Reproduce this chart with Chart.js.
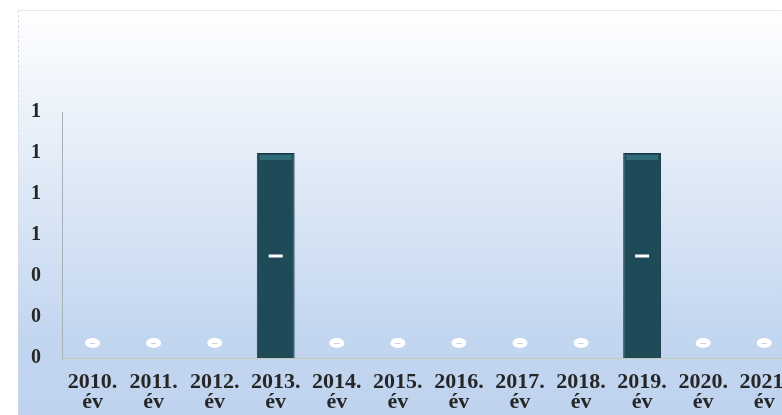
<!DOCTYPE html>
<html>
<head>
<meta charset="utf-8">
<script src="https://cdn.jsdelivr.net/npm/chart.js@4/dist/chart.umd.min.js"></script>
<style>
  html, body { margin: 0; padding: 0; overflow: hidden; background: #fff; }
  #bg {
    position: absolute; left: 18px; top: 10px; width: 800px; height: 405px;
    background: linear-gradient(to bottom, #ffffff 0%, #f3f7fc 15%, #dde8f6 45%, #c3d6f0 80%, #bfd3ef 100%);
    border-top: 1px solid #e6e6e6;
    border-left: 1px dashed #d8d8e8;
  }
  #chart_bars { position: absolute; left: 0; top: 0; }
</style>
</head>
<body>
<div id="bg"></div>
<canvas id="chart_bars" width="804" height="415"></canvas>
<script>
// categories and values
const years = ['2010.', '2011.', '2012.', '2013.', '2014.', '2015.', '2016.', '2017.', '2018.', '2019.', '2020.', '2021.'];
const counts = [0, 0, 0, 1, 0, 0, 0, 0, 0, 1, 0, 0];
const y_ticks = [0, 0.2, 0.4, 0.6, 0.8, 1, 1.2];

const labels = years.map(y => [y, 'év']);

// white label boxes like the ones on the original
const valueBoxes = {
  id: 'valueBoxes',
  afterDatasetsDraw(chart){
    const ctx = chart.ctx;
    const meta = chart.getDatasetMeta(0);
    ctx.save();
    meta.data.forEach(function(bar, i){
      const v = counts[i];
      if (v > 0){
        // lighter band at the top of the bar
        ctx.fillStyle = '#2f6b79';
        ctx.fillRect(bar.x - bar.width / 2 + 3, bar.y + 2, bar.width - 6, 5);
        const cy = (bar.y + bar.base) / 2 + 1;
        ctx.fillStyle = '#ffffff';
        ctx.fillRect(bar.x - 7, cy - 2, 14, 3);
      }else{
        const cy = bar.base - 15;
        ctx.fillStyle = '#ffffff';
        ctx.beginPath();
        ctx.ellipse(bar.x, cy, 7.5, 5, 0, 0, Math.PI * 2);
        ctx.fill();
        ctx.fillStyle = '#b8c4d4';
        ctx.font = 'bold 10px "Liberation Serif"';
        ctx.textAlign = 'center';
        ctx.textBaseline = 'middle';
        ctx.fillText('–', bar.x, cy);
      }
    });
    ctx.restore();
  }
};

const data = {
  labels: labels,
  datasets: [{
    data: counts,
    backgroundColor: '#1f4a57',
    borderColor: '#163a44',
    borderWidth: 1,
    categoryPercentage: 1,
    barPercentage: 0.62
  }]
};

const options = {
  responsive: false,
  animation: false,
  layout: { padding: { top: 112, left: 13, right: 0, bottom: 0 } },
  plugins: { legend: { display: false }, tooltip: { enabled: false } },
  scales: {
    x: {
      afterFit: function(scale){ scale.height = 57; },
      grid: { display: false, drawTicks: false },
      border: { display: true, color: '#c9c9b8', width: 1, dash: [2, 2] },
      ticks: {
        color: '#262626',
        font: { family: '"Liberation Serif"', weight: 'bold', size: 22, lineHeight: 0.88 },
        padding: 15,
        maxRotation: 0,
        autoSkip: false
      }
    },
    y: {
      min: 0,
      max: 1.2,
      afterBuildTicks: function(axis){
        axis.ticks = y_ticks.map(v => ({ value: v }));
      },
      grid: { display: false, drawTicks: true, tickLength: 3, color: '#b9c2cc' },
      border: { display: true, color: '#a8b0b8', width: 1 },
      ticks: {
        color: '#262626',
        font: { family: '"Liberation Serif"', weight: 'bold', size: 20 },
        padding: 18,
        callback: v => Math.round(v).toString()
      }
    }
  }
};

new Chart(document.getElementById('chart_bars'), {
  type: 'bar',
  data: data,
  options: options,
  plugins: [valueBoxes]
});
</script>
</body>
</html>
